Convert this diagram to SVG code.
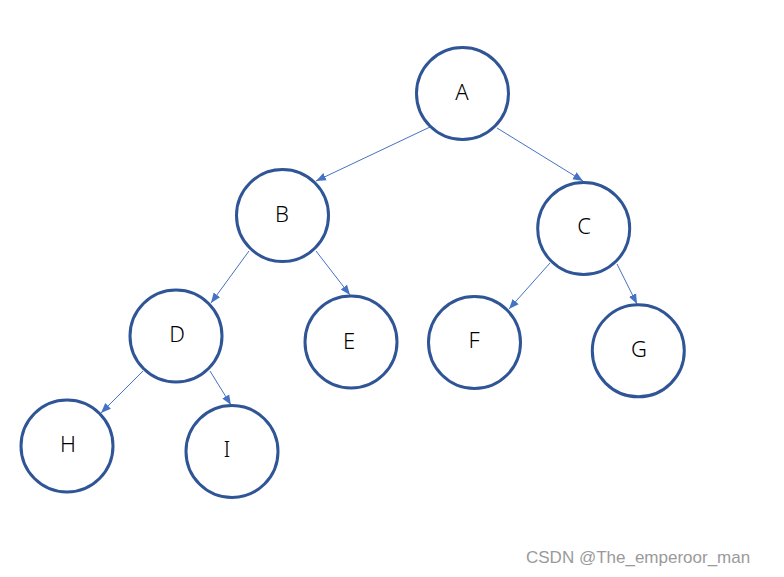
<svg xmlns="http://www.w3.org/2000/svg" width="784" height="577" viewBox="0 0 784 577">
<style>
.n{fill:#fff;stroke:#2F5597;stroke-width:3}
.t{font-family:"Noto Sans","Liberation Sans",sans-serif;font-size:22px;font-weight:300;fill:#000;text-anchor:middle;dominant-baseline:central}
.e{stroke:#4472C4;stroke-width:1;fill:none;marker-end:url(#ah)}
.w{font-family:"Liberation Sans",Arial,sans-serif;font-size:17px;fill:#9a9a9a}
</style>
<defs>
<marker id="ah" markerUnits="userSpaceOnUse" markerWidth="10" markerHeight="10" viewBox="0 0 10 10" refX="10" refY="5" orient="auto">
<path d="M0,1 L10,5 L0,9 Z" fill="#4472C4"/>
</marker>
</defs>
<rect width="784" height="577" fill="#fff"/>
<g id="edges">
<line class="e" x1="430" y1="127" x2="316" y2="181"/>
<line class="e" x1="497" y1="128" x2="583" y2="181"/>
<line class="e" x1="249" y1="251" x2="211" y2="303"/>
<line class="e" x1="316" y1="251" x2="350" y2="295"/>
<line class="e" x1="143" y1="371" x2="101" y2="413"/>
<line class="e" x1="210" y1="371" x2="231" y2="405"/>
<line class="e" x1="550" y1="263" x2="509" y2="309"/>
<line class="e" x1="617" y1="264" x2="637" y2="304"/>
</g>
<g id="A"><circle class="n" cx="462.5" cy="93.5" r="46"/><text class="t" x="462" y="91">A</text></g>
<g id="B"><circle class="n" cx="282.5" cy="215.5" r="46"/><text class="t" x="282" y="213">B</text></g>
<g id="C"><circle class="n" cx="583.7" cy="228.5" r="46"/><text class="t" x="584" y="225">C</text></g>
<g id="D"><circle class="n" cx="176" cy="336" r="46"/><text class="t" x="177" y="333">D</text></g>
<g id="E"><circle class="n" cx="351" cy="342" r="46"/><text class="t" x="349" y="340">E</text></g>
<g id="F"><circle class="n" cx="474.5" cy="342.5" r="46"/><text class="t" x="474" y="339">F</text></g>
<g id="G"><circle class="n" cx="638.3" cy="350.8" r="46"/><text class="t" x="639" y="348">G</text></g>
<g id="H"><circle class="n" cx="67" cy="446" r="46"/><text class="t" x="68" y="443">H</text></g>
<g id="I"><circle class="n" cx="232" cy="451.5" r="46"/><text class="t" x="227" y="448">I</text></g>
<text class="w" x="526" y="563">CSDN @The_emperoor_man</text>
</svg>
